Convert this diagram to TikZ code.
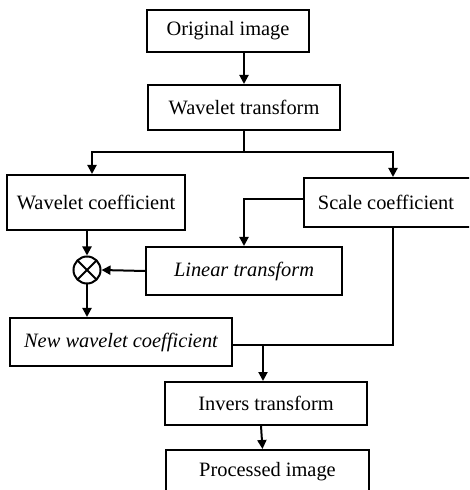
\documentclass[tikz,border=0pt]{standalone}
\usepackage{fontspec}
\setmainfont{Liberation Serif}
\usetikzlibrary{arrows.meta}
\begin{document}
\begin{tikzpicture}[x=0.5pt,y=-0.5pt,
        box/.style={draw,line width=1pt,inner sep=0pt,font=\fontsize{10.2}{12}\selectfont},
        arr/.style={line width=1pt,-{Triangle[length=4.5pt,width=4.5pt]}},
        ln/.style={line width=1pt},
        mult/.style={draw,circle,line width=1pt,minimum size=13.5pt,inner sep=0pt,
            path picture={\draw[line width=1pt]
                (path picture bounding box.north west) -- (path picture bounding box.south east)
                (path picture bounding box.north east) -- (path picture bounding box.south west);}}]
        \useasboundingbox (0,0) rectangle (469,490);
        \clip (0,0) rectangle (469,490);
        % Blocchi in alto
        \node[box,minimum width=81pt,minimum height=21pt] (orig) at (228,31) {Original image};
        \node[box,minimum width=96pt,minimum height=22.5pt] (wt) at (244,107.5) {Wavelet transform};
        \node[box,minimum width=89pt,minimum height=27.5pt] (wc) at (96,202.5) {Wavelet coefficient};
        \node[box,minimum width=89pt,minimum height=24.5pt] (sc) at (393,202.5) {\hspace*{-7pt}Scale coefficient};
        % Ramo centrale
        \node[box,minimum width=98pt,minimum height=24pt] (lt) at (244,271) {\itshape Linear transform};
        \node[mult] (mul) at (87,270) {};
        \node[box,minimum width=111pt,minimum height=24pt] (nwc) at (121,342) {\itshape New wavelet coefficient};
        % Blocchi in basso
        \node[box,minimum width=101pt,minimum height=21.5pt] (it) at (266,403.5) {Invers transform};
        \node[box,minimum width=101.5pt,minimum height=22pt] (pi) at (267.5,472) {Processed image};
        % Frecce
        \coordinate (split) at (244,152);
        \coordinate (join) at (263,345);
        \draw[arr] (orig.south -| wt.north) -- (wt.north);
        \draw[ln] (wt.south) -- (split);
        \draw[arr] (split) -| ([xshift=-2pt]wc.north);
        \draw[arr] (split) -| (sc.north);
        \draw[arr] ([yshift=1.5pt]sc.west) -| (lt.north);
        \draw[arr] (wc.south -| mul.north) -- (mul.north);
        \draw[arr] (lt.west) -- (mul.east);
        \draw[arr] (mul.south) -- (mul.south |- nwc.north);
        \draw[ln] (sc.south) |- (join) -- ([yshift=-1.5pt]nwc.east);
        \draw[arr] (join) -- (join |- it.north);
        \draw[arr] ([xshift=-2.5pt]it.south) -- ([xshift=-2.5pt]pi.north);
\end{tikzpicture}
\end{document}
